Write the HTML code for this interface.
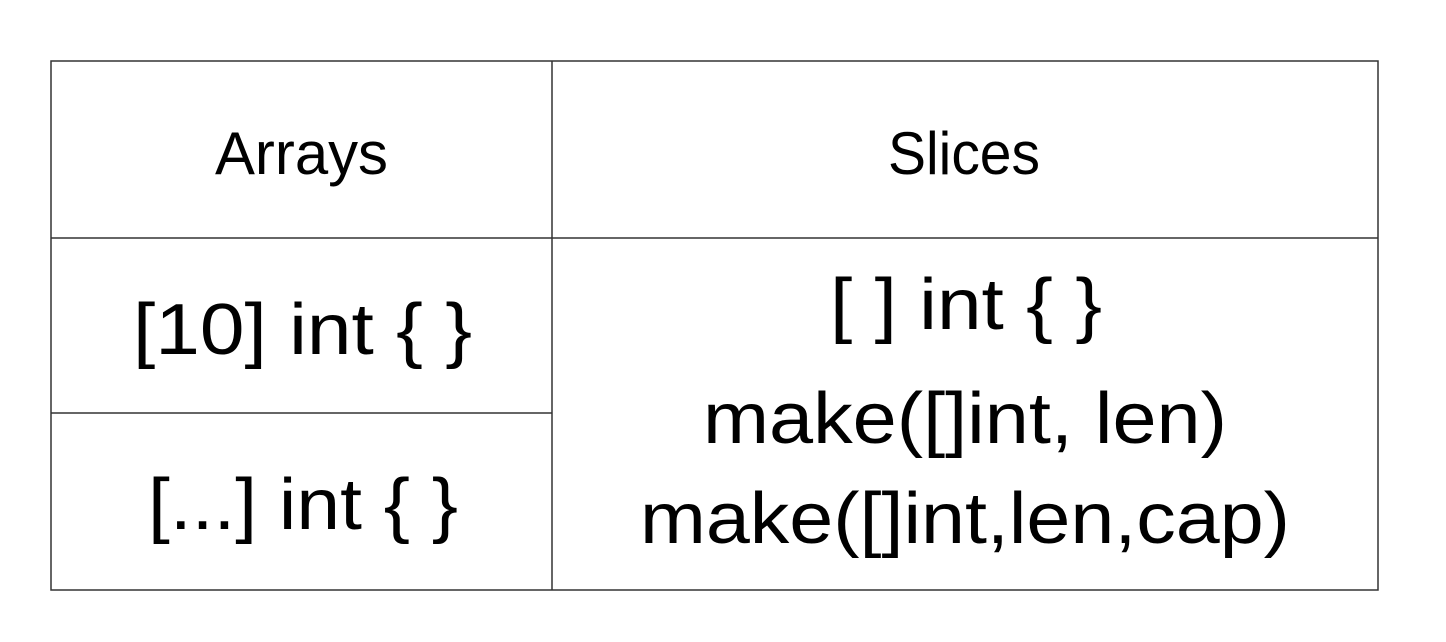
<!DOCTYPE html>
<html><head><style>
html,body{margin:0;padding:0;background:#fff;}
svg{display:block;}
text{font-family:"Liberation Sans",sans-serif;fill:#000;}
</style></head><body>
<svg width="1446" height="642" viewBox="0 0 1446 642" xmlns="http://www.w3.org/2000/svg">
<rect x="0" y="0" width="1446" height="642" fill="#fff"/>
<rect x="51" y="61" width="1327" height="529" fill="none" stroke="#333" stroke-width="1.5"/>
<line x1="552" y1="61" x2="552" y2="590" stroke="#333" stroke-width="1.5"/>
<line x1="51" y1="238" x2="1378" y2="238" stroke="#333" stroke-width="1.5"/>
<line x1="51" y1="413" x2="552" y2="413" stroke="#333" stroke-width="1.5"/>
<text x="215" y="174" font-size="60" textLength="173" lengthAdjust="spacingAndGlyphs">Arrays</text>
<text x="888" y="174" font-size="60" textLength="152" lengthAdjust="spacingAndGlyphs">Slices</text>
<text x="133" y="354" font-size="72" textLength="339" lengthAdjust="spacingAndGlyphs">[10] int { }</text>
<text x="148" y="529" font-size="72" textLength="310" lengthAdjust="spacingAndGlyphs">[...] int { }</text>
<text x="830" y="329" font-size="72" textLength="272" lengthAdjust="spacingAndGlyphs">[ ] int { }</text>
<text x="703" y="443" font-size="72" textLength="524" lengthAdjust="spacingAndGlyphs">make([]int, len)</text>
<text x="640" y="543" font-size="72" textLength="650" lengthAdjust="spacingAndGlyphs">make([]int,len,cap)</text>
</svg>
</body></html>
